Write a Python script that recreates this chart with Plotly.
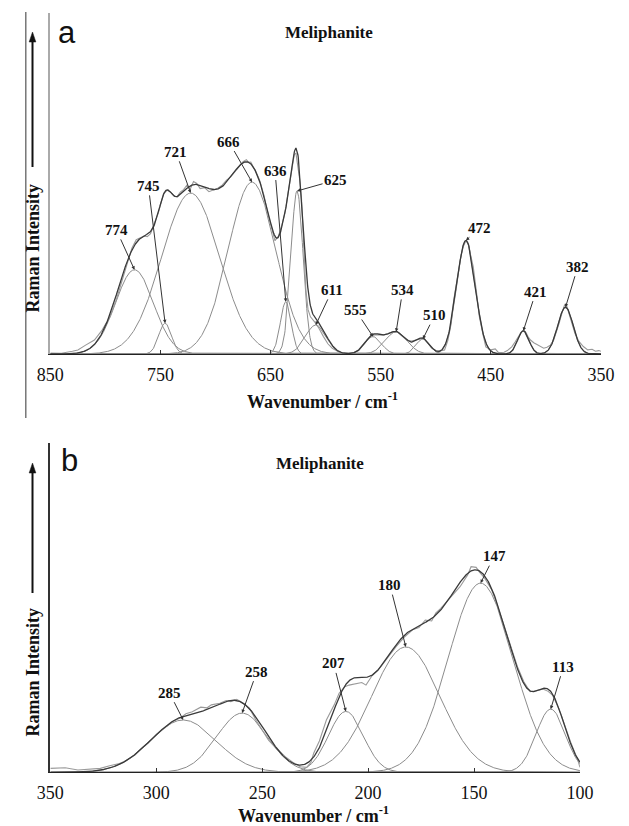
import numpy as np
import plotly.graph_objects as go

# ---------------- data: panel a (850-350 cm-1) ----------------
band_labels_a = ["774", "745", "721", "666", "636", "625", "611", "555", "534", "510", "472", "421", "382"]
band_centers_a = [773.6, 745.8, 722.6, 666.9, 636.2, 626.0, 609.0, 557.0, 536.0, 511.7, 472.6, 420.5, 382.2]
band_heights_a = [24.7, 9.0, 47.2, 50.4, 15.3, 47.8, 8.5, 5.1, 6.5, 4.4, 33.3, 6.8, 13.7]
band_fwhm_a = [40.5, 13.6, 61.8, 51.0, 11.6, 13.0, 22.0, 17.8, 23.3, 14.5, 19.8, 12.0, 16.6]
label_x_a = [790, 761, 736, 688, 646, 591, 594, 573, 530, 501, 460, 409, 371]
label_y_a = [36.4, 49.3, 59.3, 62.3, 53.8, 51, 18.8, 12.9, 18.8, 11.4, 37, 18.3, 25.6]

obs_a_x = [850, 840, 830, 825, 818, 810, 803, 796, 790, 784, 780, 776, 772, 768, 765, 762, 759,
           756, 752, 749, 747, 744, 741, 738, 735, 732, 729, 726, 723, 720, 717, 714, 710, 706,
           702, 698, 694, 690, 686, 682, 678, 675, 672, 670, 668, 665, 662, 660, 656, 652, 649,
           646, 643, 640, 637, 634, 631, 628.5, 627, 625.5, 623.5, 622, 620, 618, 616, 613.8,
           609.5, 606, 602, 598, 594, 588, 582, 576, 570, 565, 560, 556, 551, 547, 543, 539, 535,
           530, 526, 522, 518, 514, 511, 507, 504, 500, 496, 492, 489, 486, 483.7, 480, 477, 475,
           473, 471, 469, 466, 463, 460.4, 457, 454.6, 450, 446, 443, 438, 435, 431, 428, 425,
           422, 420, 418, 416, 414, 411, 408, 405, 402, 399, 396, 393, 390.8, 388, 385, 383, 381,
           378, 376, 373.6, 370, 366, 362, 358, 355, 352, 350]
obs_a_y = [0.3, 0.2, 0.8, 1.2, 2.6, 4.1, 7, 10.9, 16, 22.7, 27, 31, 33.5, 34.2, 34.6, 34.4, 35.3,
           38, 41.3, 45, 47.1, 48, 47.6, 46.4, 46.1, 47.5, 48.2, 49.5, 48.3, 50.6, 50, 48.5, 48.8,
           47.6, 48.2, 48.6, 49.5, 51, 52, 53.5, 55, 56.4, 57, 56.2, 56.3, 54.5, 52.5, 51, 46.5,
           40.5, 36.5, 33.2, 34.5, 37.5, 41.3, 47, 53, 58.5, 58.9, 56, 51, 46, 33, 19, 13, 10.9,
           9.2, 7.5, 5.1, 3, 1.7, 0.6, 0.2, 0.2, 1, 3.1, 5, 5.6, 5.7, 5.6, 6, 6.6, 6.5, 5.2, 4,
           3.8, 4.1, 4.6, 4.6, 3.2, 1.8, 1, 0.9, 1.2, 4, 9, 15.8, 23, 29, 31.5, 33, 32.8, 30, 25.6,
           18, 10.9, 5.5, 2.1, 1.2, 1.5, 0.4, 0.5, 1, 2.1, 3.5, 5, 6.6, 7, 6.2, 5, 4.1, 3.3, 2.8,
           2.4, 1.7, 2, 2.6, 4, 6, 9, 12.5, 14.4, 14, 11, 8.5, 6, 3.7, 2.2, 1.2, 1.4, 0.8, 1, 0.8]

# ---------------- data: panel b (350-100 cm-1) ----------------
band_labels_b = ["285", "258", "207", "180", "147", "113"]
band_centers_b = [287.3, 259.5, 210.5, 182.2, 146.9, 113.8]
band_heights_b = [15.9, 18.0, 18.5, 38.1, 57.5, 19.2]
band_fwhm_b = [36.5, 28.0, 19.3, 38.0, 35.8, 16.2]
label_x_b = [293.8, 252.5, 216.3, 189.7, 140.5, 107.8]
label_y_b = [24.2, 30.6, 33.1, 56.9, 65.7, 32.1]

obs_b_x = [350, 343, 337, 332, 326.4, 322, 317.4, 314, 310, 307, 304, 300, 296.3, 292, 289, 286,
           283, 279, 276, 274, 270, 267, 264.8, 262, 259, 256, 253, 250, 247, 243, 239, 235, 232,
           229, 227, 225.7, 223, 219.7, 216, 213.7, 211, 209, 206, 203, 201, 198, 194, 190, 186.8,
           183, 179, 176, 173, 170, 168, 165.7, 162, 159, 156.6, 153, 151.4, 149, 147.6, 145,
           141.6, 138.6, 135.6, 132.6, 129.5, 126.5, 123.5, 120.5, 117.5, 115, 113, 110, 107, 104,
           101, 100]
obs_b_y = [1.2, 1.4, 0.7, 1.0, 1.2, 2.0, 2.7, 3.6, 5.3, 7.2, 8.8, 11.5, 13.4, 15.5, 16.4, 17.8,
           18.4, 19.8, 19.6, 20.5, 21.0, 21.8, 21.5, 22.2, 21.0, 19.5, 15.9, 13.0, 9.8, 7.0, 4.7,
           2.8, 1.7, 1.5, 3.0, 5.8, 9.5, 15.9, 20.5, 24, 26, 26.5, 26.8, 27.3, 26.5, 29.5, 32.1,
           35.5, 38.2, 41, 43.3, 44.0, 46.3, 46.0, 48.5, 49.8, 52.5, 54.5, 56.4, 60, 62.5, 62.3,
           61, 59, 55.4, 50, 44.3, 38, 32.1, 27.5, 24.5, 24.8, 25.3, 24.6, 23.5, 19.5, 13.9, 8.5,
           3.7, 1.5]

tick_vals_a = [850, 750, 650, 550, 450, 350]
tick_vals_b = [350, 300, 250, 200, 150, 100]

# ---------------- geometry (page body has an 8px margin) ----------------
W, H = 621, 818
OFF = 8


def px(x):
    return (x - OFF) / W


def py(y):
    return 1 - (y - OFF) / H


def band(x, c, h, w):
    return h * np.exp(-4 * np.log(2) * ((x - c) / w) ** 2)


fig = go.Figure()
SERIF = "Liberation Serif, Times New Roman, serif"
COMP = "#8c8c8c"
FIT = "#3a3a3a"
OBS = "#9a9a9a"


def add_panel(xa, ya, xmin, xmax, centers, heights, fwhm, obs_x, obs_y):
    grid = np.linspace(xmin, xmax, 1500)
    total = np.zeros_like(grid)
    for c, h, w in zip(centers, heights, fwhm):
        comp = band(grid, c, h, w)
        total += comp
        fig.add_trace(go.Scatter(x=grid, y=comp, mode="lines", xaxis=xa, yaxis=ya,
                                 line=dict(color=COMP, width=1), hoverinfo="skip",
                                 showlegend=False))
    fig.add_trace(go.Scatter(x=obs_x, y=obs_y, mode="lines", xaxis=xa, yaxis=ya,
                             line=dict(color=OBS, width=1.1), showlegend=False))
    fig.add_trace(go.Scatter(x=grid, y=total, mode="lines", xaxis=xa, yaxis=ya,
                             line=dict(color=FIT, width=1.3), showlegend=False))


add_panel("x", "y", 350, 850, band_centers_a, band_heights_a, band_fwhm_a, obs_a_x, obs_a_y)
add_panel("x2", "y2", 100, 350, band_centers_b, band_heights_b, band_fwhm_b, obs_b_x, obs_b_y)

tickfont = dict(family=SERIF, size=18, color="#111")
axis_common = dict(showgrid=False, zeroline=False, showline=True, ticks="inside", ticklen=4,
                   tickcolor="#333", tickfont=tickfont, ticklabelstandoff=4)

fig.update_layout(
    width=W, height=H, margin=dict(l=0, r=0, t=0, b=0),
    paper_bgcolor="white", plot_bgcolor="white", showlegend=False,
    xaxis=dict(domain=[px(37.7), px(614.3)], range=[850, 350], tickvals=tick_vals_a,
               linecolor="#222", linewidth=1.2, anchor="y", **axis_common),
    yaxis=dict(domain=[py(354), py(13)], range=[0, 100], showgrid=False, zeroline=False,
               showline=True, linecolor="#aaaaaa", linewidth=1.5, showticklabels=False,
               ticks="", anchor="x"),
    xaxis2=dict(domain=[px(37.7), px(592.3)], range=[350, 100], tickvals=tick_vals_b,
                linecolor="#222", linewidth=1.2, anchor="y2", **axis_common),
    yaxis2=dict(domain=[py(772.3), py(443.3)], range=[0, 100], showgrid=False, zeroline=False,
                showline=True, linecolor="#333", linewidth=1.5, showticklabels=False,
                ticks="", anchor="x2"),
)

ann = []
labfont = dict(family=SERIF, size=15, color="#111")
rows = ([(l, c, h, lx, ly, "x", "y") for l, c, h, lx, ly in
         zip(band_labels_a, band_centers_a, band_heights_a, label_x_a, label_y_a)] +
        [(l, c, h, lx, ly, "x2", "y2") for l, c, h, lx, ly in
         zip(band_labels_b, band_centers_b, band_heights_b, label_x_b, label_y_b)])
for lab, c, h, lx, ly, xr, yr in rows:
    ann.append(dict(x=c, y=h, xref=xr, yref=yr, ax=lx, ay=ly, axref=xr, ayref=yr,
                    text="<b>%s</b>" % lab, font=labfont, showarrow=True, arrowhead=2,
                    arrowsize=0.7, arrowwidth=1, arrowcolor="#333", standoff=0,
                    startstandoff=0))

titlefont = dict(family=SERIF, size=17, color="#111")
axtitlefont = dict(family=SERIF, size=18, color="#111")
for (tx, ty, txt, f) in [
        (330, 32, "<b>Meliphanite</b>", titlefont),
        (320, 463, "<b>Meliphanite</b>", titlefont),
        (323, 400, "<b>Wavenumber / cm<sup>-1</sup></b>", axtitlefont),
        (313, 814, "<b>Wavenumber / cm<sup>-1</sup></b>", axtitlefont)]:
    ann.append(dict(x=px(tx), y=py(ty), xref="paper", yref="paper", text=txt, font=f,
                    showarrow=False, xanchor="center", yanchor="middle"))

shapes = []
# Y-axis labels with upward arrows (drawn as line + triangle head)
for (cy, tip, tail) in [(248, 32, 167), (672, 463, 593)]:
    ann.append(dict(x=px(20), y=py(cy), xref="paper", yref="paper",
                    text="<b>Raman Intensity</b>", textangle=-90, font=axtitlefont,
                    showarrow=False, xanchor="center", yanchor="middle"))
    shapes.append(dict(type="line", xref="paper", yref="paper", x0=px(19), x1=px(19),
                       y0=py(tail), y1=py(tip + 8), line=dict(color="#111", width=2)))
    shapes.append(dict(type="path", xref="paper", yref="paper",
                       path="M %f %f L %f %f L %f %f Z" % (px(19), py(tip), px(15.5), py(tip + 10),
                                                           px(22.5), py(tip + 10)),
                       fillcolor="#111", line=dict(color="#111", width=0.5)))

# panel letters
for (tx, ty, txt) in [(55, 33, "a"), (58, 460, "b")]:
    ann.append(dict(x=px(tx), y=py(ty), xref="paper", yref="paper", text=txt,
                    font=dict(family="Liberation Sans, Arial, sans-serif", size=31, color="#111"),
                    showarrow=False, xanchor="center", yanchor="middle"))

# outer frame line on the left of panel a
shapes.append(dict(type="line", xref="paper", yref="paper", x0=px(12), x1=px(12), y0=py(12),
                   y1=py(418), line=dict(color="#555", width=1.2)))

fig.update_layout(annotations=ann, shapes=shapes)
fig.write_html("out.html")
